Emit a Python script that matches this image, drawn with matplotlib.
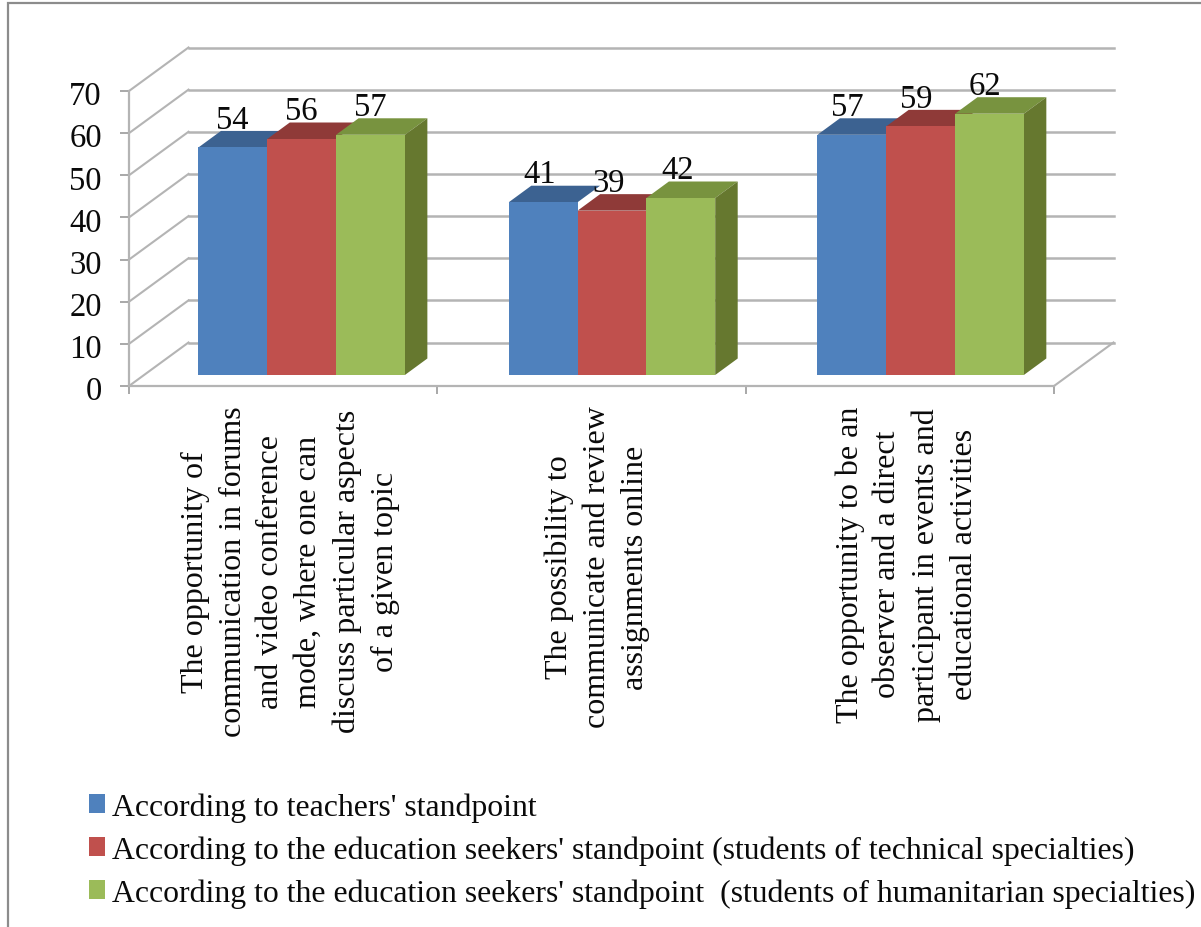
import matplotlib
matplotlib.use("Agg")
import matplotlib.pyplot as plt
from matplotlib.patches import Patch, Polygon, Rectangle
from matplotlib.transforms import Affine2D

categories = [
    "The opportunity of\ncommunication in forums\nand video conference\nmode, where one can\ndiscuss particular aspects\nof a given topic",
    "The possibility to\ncommunicate and review\nassignments online",
    "The opportunity to be an\nobserver and a direct\nparticipant in events and\neducational activities",
]
series_names = [
    "According to teachers' standpoint",
    "According to the education seekers' standpoint (students of technical specialties)",
    "According to the education seekers' standpoint  (students of humanitarian specialties)",
]
teachers = [54, 41, 57]
technical = [56, 39, 59]
humanitarian = [57, 42, 62]
y_ticks = [0, 10, 20, 30, 40, 50, 60, 70]

series = [teachers, technical, humanitarian]
front = ["#4f81bd", "#c0504d", "#9bbb59"]
top = ["#3c6291", "#8f3a38", "#78933f"]
side = ["#34557f", "#7d3230", "#66782f"]
grid = "#b4b4b4"
serif = "Liberation Serif"

W, H = 1201, 928
fig = plt.figure(figsize=(W / 100, H / 100), dpi=100, facecolor="white")
X0, X1, Y0, Y70 = 129, 1054, 387, 92
ax = fig.add_axes([X0 / W, 1 - Y0 / H, (X1 - X0) / W, (Y0 - Y70) / H])
ax.set_xlim(0, 3)
ax.set_ylim(0, 70)
ax.patch.set_visible(False)
for s in ["top", "right"]:
    ax.spines[s].set_visible(False)
for s in ["left", "bottom"]:
    ax.spines[s].set_color(grid)
    ax.spines[s].set_linewidth(1.6)

# y axis
ax.set_yticks(y_ticks)
ax.tick_params(axis="y", length=6.5, width=1.2, color="#999999", pad=13, labelsize=23.5, labelcolor="#0a0a0a")
for t in ax.get_yticklabels():
    t.set_fontfamily(serif)
    t.set_transform(t.get_transform() + Affine2D().translate(0, -1.5))

# x axis: boundary ticks, centred labels
ax.set_xticks([0, 1, 2, 3])
ax.set_xticklabels([])
ax.set_xticks([0.5, 1.5, 2.5], minor=True)
ax.set_xticklabels(categories, minor=True, rotation=90, ha="center", va="top", multialignment="center",
                   fontfamily=serif, fontsize=23, linespacing=1.4, color="#0a0a0a")
ax.tick_params(axis="x", which="major", length=6, width=1.2, color="#999999")
ax.tick_params(axis="x", which="minor", length=0, pad=14)
for lab, shift in zip(ax.get_xticklabels(minor=True), [7, 6, 7]):
    lab.set_transform(lab.get_transform() + Affine2D().translate(shift, 0))

# 3D-looking walls
DX, DY = 59.5, 43.5  # wall depth in pixels
back = ax.transData + Affine2D().translate(DX, DY)
for v in y_ticks:
    ax.plot([0, 3], [v, v], transform=back, color=grid, lw=1.8, clip_on=False, zorder=1)
    x_a, y_a = ax.transData.transform((0, v))
    ax.plot([x_a, x_a + DX], [y_a, y_a + DY], transform=None, color=grid, lw=1.5, clip_on=False, zorder=1)
x_a, y_a = ax.transData.transform((3, 0))
ax.plot([x_a, x_a + DX], [y_a, y_a + DY], transform=None, color=grid, lw=1.5, clip_on=False, zorder=1)

# bars
BW = 68.8 / ((X1 - X0) / 3)
px_per_x = (X1 - X0) / 3
px_per_y = (Y0 - Y70) / 70
bdx, bdy = 22.5, 16.5
lift = 11
group_shift = [18.5, 20.5, 20.8]
label_shift = [-0.5, -3.5, -4.5]
for g in range(3):
    tr = ax.transData + Affine2D().translate(group_shift[g], lift)
    for i in [0, 1, 2]:
        v = series[i][g]
        xc = g + 0.5 + (i - 1) * BW
        xl, xr = xc - BW / 2, xc + BW / 2
        ddx, ddy = bdx / px_per_x, bdy / px_per_y
        ax.add_patch(Polygon([(xl, v), (xr, v), (xr + ddx, v + ddy), (xl + ddx, v + ddy)], closed=True,
                             facecolor=top[i], edgecolor="none", transform=tr, clip_on=False, zorder=3 + i))
        if i == 2:
            ax.add_patch(Polygon([(xr, 0), (xr + ddx, ddy), (xr + ddx, v + ddy), (xr, v)], closed=True,
                                 facecolor=side[i], edgecolor="none", transform=tr, clip_on=False, zorder=3 + i))
    for i in range(3):
        v = series[i][g]
        xc = g + 0.5 + (i - 1) * BW
        ax.bar(xc, v, width=BW, color=front[i], transform=tr, clip_on=False, zorder=7, linewidth=0)
        ax.text(xc, v, str(v), transform=tr + Affine2D().translate(label_shift[g], 28),
                ha="center", va="center", fontfamily=serif, fontsize=23.5, color="#0a0a0a", zorder=8)

# outer frame
fig.add_artist(Rectangle((8 / W, -0.02), 1.1, 1 - 4 / H + 0.02, transform=fig.transFigure,
                         fill=False, edgecolor="#8c8c8c", linewidth=1.6))

# legend
handles = [Patch(facecolor=c, edgecolor="none") for c in front]
fig.legend(handles, series_names, loc="upper left", bbox_to_anchor=(79 / W, 1 - 783.5 / H), frameon=False,
           prop={"family": serif, "size": 22.9}, handlelength=0.53, handleheight=0.53, handletextpad=0.22,
           labelspacing=0.43, borderpad=0.3, borderaxespad=0, labelcolor="#0a0a0a")

fig.savefig("out.png", dpi=100)
